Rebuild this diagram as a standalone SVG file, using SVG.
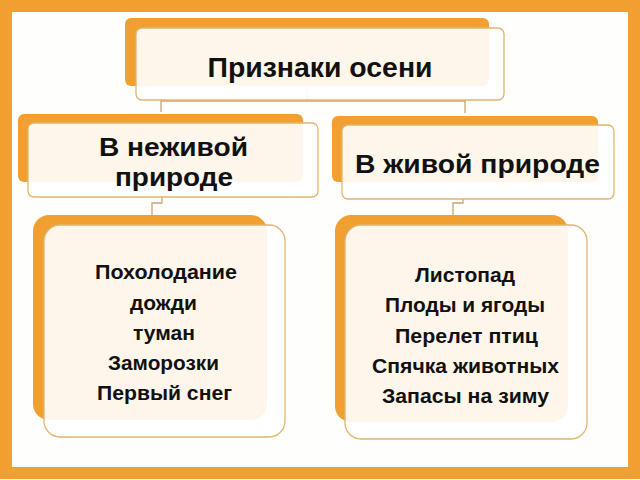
<svg xmlns="http://www.w3.org/2000/svg" width="640" height="480" viewBox="0 0 640 480">
<style>
.back{fill:#F0A030}
.front{fill:#FFFFFF;fill-opacity:0.9;stroke:#E2B46E;stroke-width:1.3}
.conn{fill:none;stroke:#C8A574;stroke-width:1.3}
.t{font-family:"Liberation Sans",Arial,sans-serif;font-weight:bold;fill:#111;text-anchor:middle}
.big{font-size:26px}
.title{font-size:27px}
.small{font-size:21px}
</style>
<rect x="0" y="0" width="640" height="480" fill="#FEFEFC"/>
<rect x="6" y="6" width="628" height="467" fill="none" stroke="#F0A030" stroke-width="12"/>
<g id="connectors">
<path class="conn" d="M307,90 V101"/>
<path class="conn" d="M161,112 V101 H465 V113"/>
<path class="conn" d="M162,197 V203 H152 V215"/>
<path class="conn" d="M463,199 V203 H453 V216"/>
</g>
<g id="node-title">
<rect class="back" x="125" y="18" width="364" height="68" rx="6"/>
<rect class="front" x="136" y="28" width="368" height="72" rx="6"/>
<text class="t title" x="320" y="77" textLength="225" lengthAdjust="spacingAndGlyphs">Признаки осени</text>
</g>
<g id="node-nonliving">
<rect class="back" x="18" y="114" width="285" height="68" rx="6"/>
<rect class="front" x="28" y="123" width="290" height="74" rx="6"/>
<text class="t big" x="173.5" y="156" textLength="149" lengthAdjust="spacingAndGlyphs">В неживой</text>
<text class="t big" x="174" y="186" textLength="118" lengthAdjust="spacingAndGlyphs">природе</text>
</g>
<g id="node-living">
<rect class="back" x="332" y="116" width="266" height="66" rx="6"/>
<rect class="front" x="342" y="125" width="272" height="74" rx="6"/>
<text class="t big" x="477.5" y="173" textLength="245" lengthAdjust="spacingAndGlyphs">В живой природе</text>
</g>
<g id="node-nonliving-list">
<rect class="back" x="33" y="215" width="234" height="205" rx="16"/>
<rect class="front" x="44" y="225" width="241" height="212" rx="16"/>
<text class="t small" x="166" y="279" textLength="142" lengthAdjust="spacingAndGlyphs">Похолодание</text>
<text class="t small" x="163.5" y="310" textLength="67" lengthAdjust="spacingAndGlyphs">дожди</text>
<text class="t small" x="164" y="340" textLength="62" lengthAdjust="spacingAndGlyphs">туман</text>
<text class="t small" x="163.5" y="370" textLength="111" lengthAdjust="spacingAndGlyphs">Заморозки</text>
<text class="t small" x="164.5" y="400" textLength="135" lengthAdjust="spacingAndGlyphs">Первый снег</text>
</g>
<g id="node-living-list">
<rect class="back" x="335" y="215" width="233" height="207" rx="16"/>
<rect class="front" x="345" y="225" width="242" height="214" rx="16"/>
<text class="t small" x="465" y="282" textLength="100" lengthAdjust="spacingAndGlyphs">Листопад</text>
<text class="t small" x="465" y="312" textLength="160" lengthAdjust="spacingAndGlyphs">Плоды и ягоды</text>
<text class="t small" x="466.5" y="343" textLength="143" lengthAdjust="spacingAndGlyphs">Перелет птиц</text>
<text class="t small" x="465.5" y="373" textLength="187" lengthAdjust="spacingAndGlyphs">Спячка животных</text>
<text class="t small" x="465.5" y="403" textLength="167" lengthAdjust="spacingAndGlyphs">Запасы на зиму</text>
</g>
</svg>
